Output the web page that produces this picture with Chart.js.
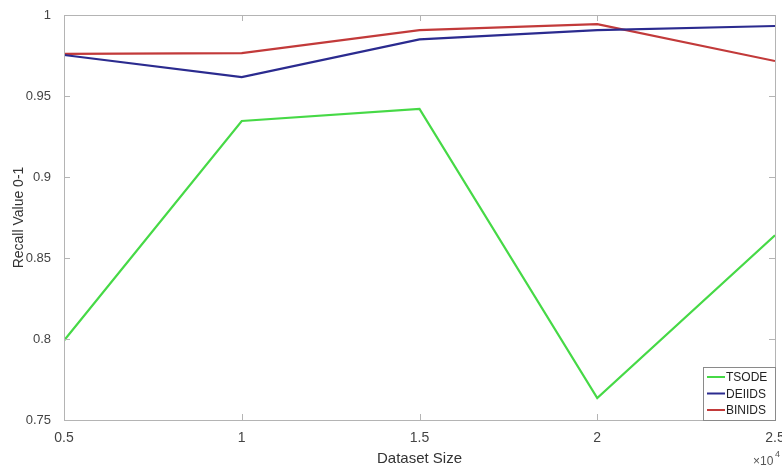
<!DOCTYPE html>
<html>
<head>
<meta charset="utf-8">
<script src="https://cdn.jsdelivr.net/npm/chart.js@4.4.0/dist/chart.umd.min.js"></script>
<style>
  html, body { margin: 0; padding: 0; background: #fff; }
  #wrap { width: 782px; height: 468px; }
</style>
</head>
<body>
<div id="wrap"><canvas id="recallChart" width="782" height="468"></canvas></div>
<script>
// dataset sizes (x 10^4)
const sizes = [0.5, 1, 1.5, 2, 2.5];
const tsode = [0.799, 0.9346, 0.942, 0.7636, 0.864];
const deiids = [0.9753, 0.9617, 0.985, 0.9907, 0.9932];
const binids = [0.976, 0.9765, 0.9907, 0.9944, 0.9716];
const yTicks = [0.75, 0.8, 0.85, 0.9, 0.95, 1];
const xTicks = [0.5, 1, 1.5, 2, 2.5];

const seriesNames = ['TSODE', 'DEIIDS', 'BINIDS'];
const seriesColors = ['#46d946', '#2b2b8f', '#c23a3a'];

function pts(vals) {
    return sizes.map((s, i) => ({ x: s, y: vals[i] }));
}

// box around the plot, inward ticks, inset legend and the x10^4 mark
const matlabBox = {
    id: 'matlabBox',
    afterDraw(chart) {
        const ctx = chart.ctx;
        const a = chart.chartArea;
        const xs = chart.scales.x, ys = chart.scales.y;
        ctx.save();
        ctx.strokeStyle = '#b4b4b4';
        ctx.lineWidth = 1;
        ctx.strokeRect(a.left + 0.5, a.top + 0.5, a.right - a.left, a.bottom - a.top);
        ctx.beginPath();
        xTicks.forEach(v => {
            const px = Math.round(xs.getPixelForValue(v)) + 0.5;
            ctx.moveTo(px, a.bottom); ctx.lineTo(px, a.bottom - 6);
            ctx.moveTo(px, a.top); ctx.lineTo(px, a.top + 6);
        });
        yTicks.forEach(v => {
            const py = Math.round(ys.getPixelForValue(v)) + 0.5;
            ctx.moveTo(a.left, py); ctx.lineTo(a.left + 6, py);
            ctx.moveTo(a.right, py); ctx.lineTo(a.right - 6, py);
        });
        ctx.stroke();

        // legend in the lower right corner
        const bw = 72, bh = 53;
        const bx = a.right - bw, by = a.bottom - bh;
        ctx.fillStyle = '#fff';
        ctx.fillRect(bx, by, bw, bh);
        ctx.strokeStyle = '#8a8a8a';
        ctx.strokeRect(bx + 0.5, by + 0.5, bw, bh);
        ctx.font = '12px "Liberation Sans", Arial, sans-serif';
        ctx.textBaseline = 'middle';
        ctx.textAlign = 'left';
        seriesNames.forEach((name, i) => {
            const ly = by + 10 + i * 16.5;
            ctx.strokeStyle = seriesColors[i];
            ctx.lineWidth = 2;
            ctx.beginPath();
            ctx.moveTo(bx + 4, ly); ctx.lineTo(bx + 22, ly);
            ctx.stroke();
            ctx.fillStyle = '#222';
            ctx.fillText(name, bx + 23, ly + 1);
        });

        // exponent label
        ctx.fillStyle = '#555';
        ctx.font = '12px "Liberation Sans", Arial, sans-serif';
        ctx.textAlign = 'left';
        ctx.fillText('\u00d710', 753, 462);
        ctx.font = '9px "Liberation Sans", Arial, sans-serif';
        ctx.fillText('4', 775, 455);
        ctx.restore();
    }
};

const fontFamily = '"Liberation Sans", Arial, sans-serif';

new Chart(document.getElementById('recallChart').getContext('2d'), {
    type: 'line',
    data: {
        datasets: seriesNames.map((name, i) => ({
            label: name,
            data: pts([tsode, deiids, binids][i]),
            borderColor: seriesColors[i],
            borderWidth: 2.2,
            pointRadius: 0,
            fill: false,
            tension: 0
        }))
    },
    options: {
        responsive: false,
        animation: false,
        layout: { padding: { left: 0, right: 7, top: 15, bottom: 0 } },
        plugins: {
            legend: { display: false },
            tooltip: { enabled: false }
        },
        scales: {
            x: {
                type: 'linear',
                min: 0.5,
                max: 2.5,
                afterBuildTicks: s => { s.ticks = xTicks.map(v => ({ value: v })); },
                afterFit: s => { s.height = 48; s.paddingLeft = 0; s.paddingRight = 0; },
                border: { display: false },
                grid: { display: false },
                ticks: {
                    color: '#444',
                    font: { family: fontFamily, size: 14 },
                    padding: 2,
                    maxRotation: 0,
                    callback: v => String(v)
                },
                title: {
                    display: true,
                    text: 'Dataset Size',
                    color: '#333',
                    font: { family: fontFamily, size: 15 },
                    padding: { top: 0, bottom: 0 }
                }
            },
            y: {
                min: 0.75,
                max: 1,
                afterBuildTicks: s => { s.ticks = yTicks.map(v => ({ value: v })); },
                afterFit: s => { s.width = 64; },
                border: { display: false },
                grid: { display: false },
                ticks: {
                    color: '#444',
                    font: { family: fontFamily, size: 13 },
                    padding: 5,
                    callback: v => String(Math.round(v * 100) / 100)
                },
                title: {
                    display: true,
                    text: 'Recall Value 0-1',
                    color: '#333',
                    font: { family: fontFamily, size: 14 },
                    padding: { top: 11, bottom: 0 }
                }
            }
        }
    },
    plugins: [matlabBox]
});
</script>
</body>
</html>
